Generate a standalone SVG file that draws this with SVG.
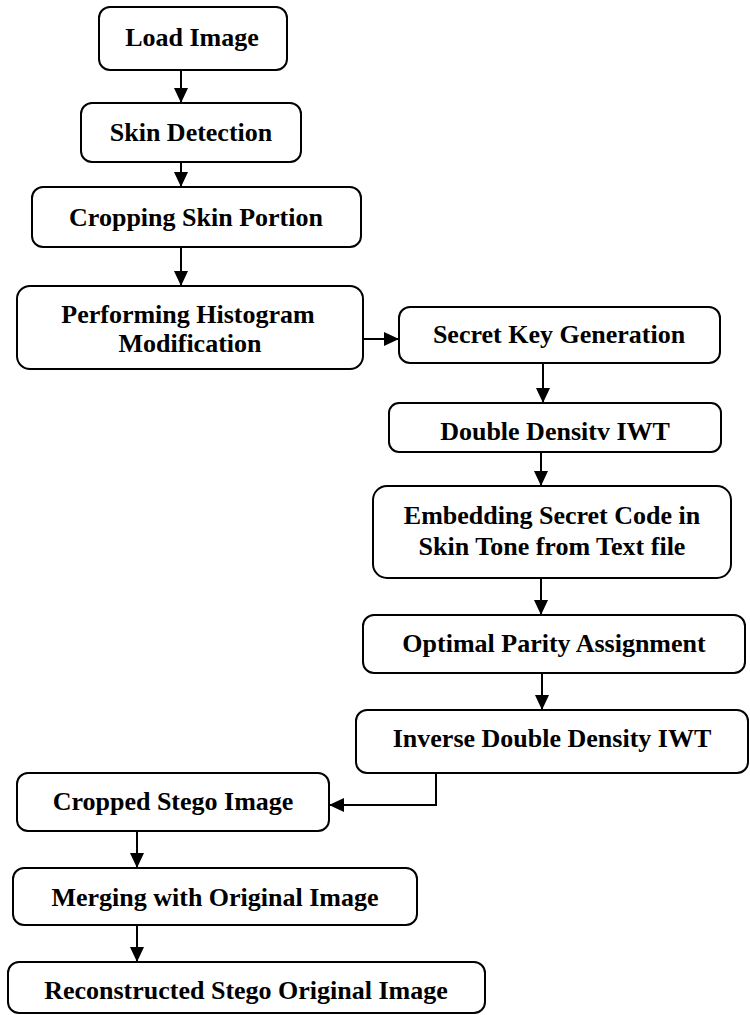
<svg xmlns="http://www.w3.org/2000/svg" width="750" height="1015" viewBox="0 0 750 1015">
<style>
.box{fill:#fff;stroke:#000;stroke-width:2}
.t{font-family:"Liberation Serif","Times New Roman",serif;font-weight:bold;font-size:26px;fill:#000;text-anchor:middle}
.c{fill:none;stroke:#000;stroke-width:2}
</style>
<defs>
<marker id="ah" viewBox="0 0 15 14" refX="15" refY="7" markerWidth="15" markerHeight="14" markerUnits="userSpaceOnUse" orient="auto">
<path d="M0,0 L15,7 L0,14 z" fill="#000"/>
</marker>
</defs>
<g id="connectors">
<line class="c" x1="181" y1="70" x2="181" y2="103" marker-end="url(#ah)"/>
<line class="c" x1="181" y1="162" x2="181" y2="187" marker-end="url(#ah)"/>
<line class="c" x1="181" y1="247" x2="181" y2="286" marker-end="url(#ah)"/>
<line class="c" x1="363" y1="339" x2="399" y2="339" marker-end="url(#ah)"/>
<line class="c" x1="543" y1="363" x2="543" y2="403" marker-end="url(#ah)"/>
<line class="c" x1="541" y1="452" x2="541" y2="486" marker-end="url(#ah)"/>
<line class="c" x1="541" y1="578" x2="541" y2="615" marker-end="url(#ah)"/>
<line class="c" x1="542" y1="673" x2="542" y2="710" marker-end="url(#ah)"/>
<polyline class="c" points="436,773 436,805 329,805" marker-end="url(#ah)"/>
<line class="c" x1="137" y1="831" x2="137" y2="868" marker-end="url(#ah)"/>
<line class="c" x1="137" y1="925" x2="137" y2="962" marker-end="url(#ah)"/>
</g>
<g id="load-image">
<rect class="box" x="99" y="7" width="188" height="63" rx="11"/>
<text class="t" x="192" y="46">Load Image</text>
</g>
<g id="skin-detection">
<rect class="box" x="81" y="103" width="220" height="59" rx="11"/>
<text class="t" x="191" y="141">Skin Detection</text>
</g>
<g id="cropping-skin-portion">
<rect class="box" x="32" y="187" width="329" height="60" rx="11"/>
<text class="t" x="196" y="226">Cropping Skin Portion</text>
</g>
<g id="histogram-modification">
<rect class="box" x="17" y="286" width="346" height="83" rx="13"/>
<text class="t" x="188" y="323">Performing Histogram</text>
<text class="t" x="190" y="352">Modification</text>
</g>
<g id="secret-key-generation">
<rect class="box" x="399" y="307" width="321" height="56" rx="11"/>
<text class="t" x="559" y="343">Secret Key Generation</text>
</g>
<g id="double-density-iwt">
<rect class="box" x="389" y="403" width="332" height="49" rx="10"/>
<text class="t" x="555" y="440">Double Densitv IWT</text>
</g>
<g id="embedding">
<rect class="box" x="373" y="486" width="358" height="92" rx="14"/>
<text class="t" x="552" y="524">Embedding Secret Code in</text>
<text class="t" x="552" y="555">Skin Tone from Text file</text>
</g>
<g id="optimal-parity">
<rect class="box" x="363" y="615" width="382" height="58" rx="11"/>
<text class="t" x="554" y="652">Optimal Parity Assignment</text>
</g>
<g id="inverse-iwt">
<rect class="box" x="356" y="710" width="392" height="63" rx="11"/>
<text class="t" x="552" y="747">Inverse Double Density IWT</text>
</g>
<g id="cropped-stego">
<rect class="box" x="17" y="773" width="312" height="58" rx="11"/>
<text class="t" x="173" y="810">Cropped Stego Image</text>
</g>
<g id="merging">
<rect class="box" x="13" y="868" width="404" height="57" rx="11"/>
<text class="t" x="215" y="906">Merging with Original Image</text>
</g>
<g id="reconstructed">
<rect class="box" x="8" y="962" width="477" height="51" rx="11"/>
<text class="t" x="246" y="999">Reconstructed Stego Original Image</text>
</g>
</svg>
